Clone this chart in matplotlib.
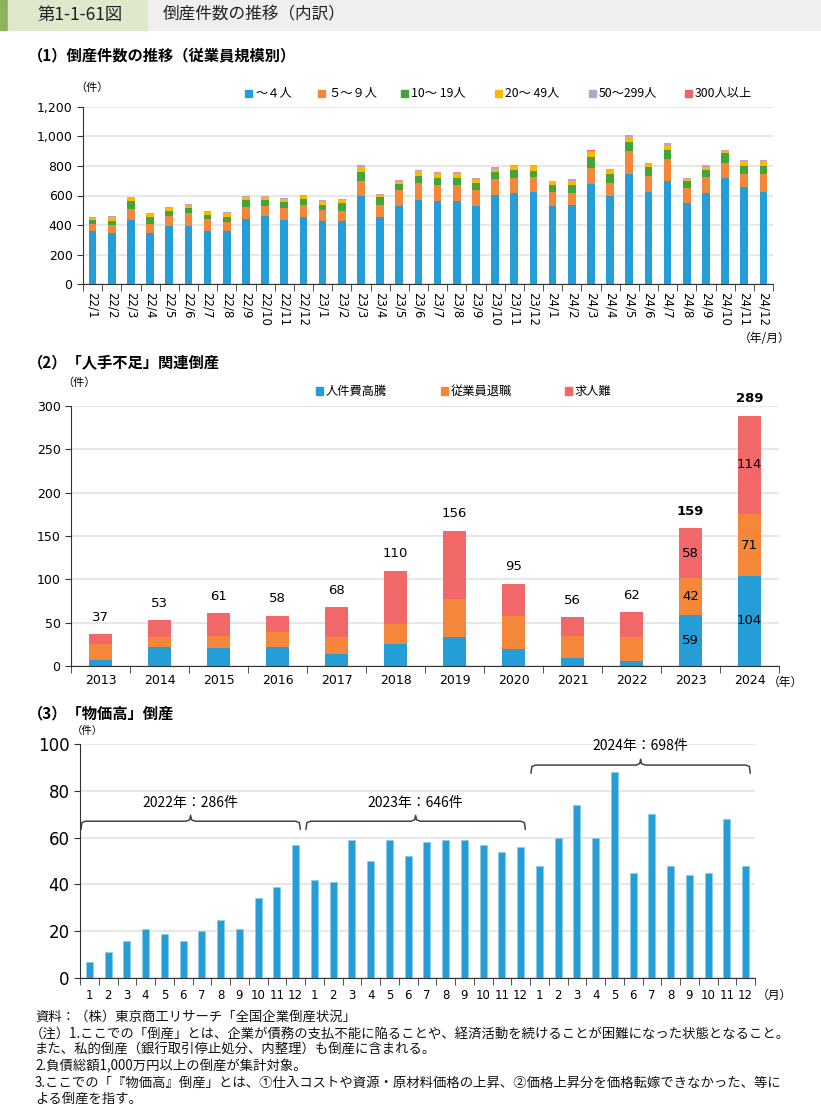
import numpy as np
import matplotlib
matplotlib.use('Agg')
import matplotlib.pyplot as plt
from matplotlib.patches import Rectangle

plt.rcParams['font.family'] = ['DejaVu Sans', 'Noto Sans CJK JP']
JP = ['Noto Sans CJK JP', 'DejaVu Sans']

# ---- panel 1 data: bankruptcies by employee size (monthly) ----
months1 = ["22/%d" % m for m in range(1, 13)] + ["23/%d" % m for m in range(1, 13)] + \
          ["24/%d" % m for m in range(1, 13)]
size_labels = ["～４人", "５～９人", "10～ 19人", "20～ 49人", "50～299人", "300人以上"]
s_0_4 = [357, 345, 436, 345, 395, 390, 361, 357, 440, 458, 433, 454,
         427, 429, 600, 454, 526, 567, 560, 560, 530, 603, 614, 621,
         526, 535, 675, 594, 745, 621, 697, 548, 616, 718, 655, 627]
s_5_9 = [51, 55, 74, 63, 68, 91, 77, 61, 79, 72, 82, 83,
         76, 68, 100, 81, 108, 117, 110, 110, 109, 106, 108, 104,
         95, 81, 110, 92, 158, 113, 152, 102, 109, 104, 92, 120]
s_10_19 = [23, 29, 52, 46, 29, 34, 27, 36, 48, 41, 42, 36,
           34, 51, 56, 54, 41, 50, 48, 50, 43, 49, 52, 42,
           52, 57, 77, 57, 61, 58, 61, 45, 45, 67, 54, 56]
s_20_49 = [14, 27, 25, 22, 23, 20, 20, 24, 24, 18, 21, 25,
           25, 21, 38, 14, 22, 29, 29, 27, 24, 23, 23, 34,
           22, 24, 32, 31, 31, 23, 33, 18, 22, 16, 30, 28]
s_50_299 = [6, 2, 4, 7, 6, 9, 7, 10, 7, 9, 4, 7,
            9, 9, 14, 6, 9, 9, 9, 11, 12, 9, 9, 7,
            5, 14, 11, 7, 14, 7, 12, 9, 14, 5, 9, 11]
s_300 = [1, 0, 1, 1, 0, 1, 0, 1, 1, 0, 1, 1,
         0, 1, 1, 0, 1, 1, 0, 1, 1, 0, 1, 1,
         0, 1, 1, 0, 1, 1, 1, 0, 1, 1, 0, 1]
size_colors = ['#259ed8', '#f5873b', '#3fa637', '#ffb800', '#b9a1d0', '#f26464']

# ---- panel 2 data: labour shortage bankruptcies (yearly) ----
years2 = [str(y) for y in range(2013, 2025)]
shortage_labels = ["人件費高騰", "従業員退職", "求人難"]
labour_cost = [7, 22, 21, 22, 14, 25, 33, 20, 9, 6, 59, 104]
retirement = [18, 11, 14, 17, 19, 24, 44, 38, 26, 28, 42, 71]
hiring = [12, 20, 26, 19, 35, 61, 79, 37, 21, 28, 58, 114]
shortage_colors = ['#259ed8', '#f5873b', '#f26868']

# ---- panel 3 data: price-hike bankruptcies (monthly) ----
months3 = [str(m) for m in range(1, 13)] * 3
price_counts = [7, 11, 16, 21, 19, 16, 20, 25, 21, 34, 39, 57,
                42, 41, 59, 50, 59, 52, 58, 59, 59, 57, 54, 56,
                48, 60, 74, 60, 88, 45, 70, 48, 44, 45, 68, 48]
year_names = ["2022", "2023", "2024"]

W, H = 821, 1106
fig = plt.figure(figsize=(W / 100, H / 100), dpi=100)


def fx(px):
    return px / W


def fy(py):
    return 1 - py / H


def legend_row(xs_px, y_px, labels, colors, size=8.8):
    # hand-placed legend: small square + label
    for xp, lab, col in zip(xs_px, labels, colors):
        fig.patches.append(Rectangle((fx(xp - 3.5), fy(y_px + 3.5)), fx(7), 7 / H,
                                     transform=fig.transFigure, color=col))
        fig.text(fx(xp + 7), fy(y_px), lab, family=JP, fontsize=size, va='center')


# header band
fig.patches.append(Rectangle((0, fy(30)), fx(8), 30 / H, transform=fig.transFigure, color='#8fb05c'))
fig.patches.append(Rectangle((fx(8), fy(30)), fx(140), 30 / H, transform=fig.transFigure, color='#dde8cc'))
fig.patches.append(Rectangle((fx(148), fy(30)), fx(673), 30 / H, transform=fig.transFigure, color='#efefef'))
fig.text(fx(37), fy(15), "第1-1-61図", family=JP, fontsize=12.5, va='center', color='#222222')
fig.text(fx(163), fy(15), "倒産件数の推移（内訳）", family=JP, fontsize=12, va='center', color='#222222')

fig.text(fx(28), fy(56), "（1）倒産件数の推移（従業員規模別）", family=JP, fontsize=11,
         weight='bold', va='center')
fig.text(fx(28), fy(363), "（2）「人手不足」関連倒産", family=JP, fontsize=11,
         weight='bold', va='center')
fig.text(fx(28), fy(713), "（3）「物価高」倒産", family=JP, fontsize=11,
         weight='bold', va='center')


def style_axis(ax):
    for s in ['top', 'right']:
        ax.spines[s].set_visible(False)
    ax.spines['left'].set_color('#333333')
    ax.spines['bottom'].set_color('#333333')
    ax.grid(axis='y', color='#e3e3e3', lw=1.2)
    ax.set_axisbelow(True)


# ---------- panel 1 ----------
ax1 = fig.add_axes([fx(83), fy(284), fx(690), (284 - 107) / H])
style_axis(ax1)
x1 = np.arange(len(months1))
bottom = np.zeros(len(months1))
for vals, lab, col in zip([s_0_4, s_5_9, s_10_19, s_20_49, s_50_299, s_300], size_labels, size_colors):
    ax1.bar(x1, vals, 0.4, bottom=bottom, color=col, label=lab)
    bottom += np.array(vals)
ax1.set_xlim(-0.5, len(months1) - 0.5)
ax1.set_ylim(0, 1200)
ax1.set_yticks(range(0, 1201, 200))
ax1.set_yticklabels(["{:,}".format(v) for v in range(0, 1201, 200)], fontsize=9)
ax1.set_xticks(x1)
ax1.set_xticklabels(months1, rotation=-90, fontsize=8.5, va='top')
ax1.tick_params(axis='x', length=0, pad=6)
ax1.set_xticks(np.arange(-0.5, len(months1)), minor=True)
ax1.tick_params(axis='x', which='minor', length=5, color='#333333')
ax1.tick_params(axis='y', length=4, color='#333333')
fig.text(fx(75), fy(88), "（件）", family=JP, fontsize=8, va='center')
fig.text(fx(790), fy(338), "（年/月）", family=JP, fontsize=8.5, va='center', ha='right')
legend_row([248, 321, 404, 498, 592, 688], 93, size_labels, size_colors)

# ---------- panel 2 ----------
ax2 = fig.add_axes([fx(71), fy(666), fx(708), (666 - 406) / H])
style_axis(ax2)
x2 = np.arange(len(years2))
bottom = np.zeros(len(years2))
for vals, lab, col in zip([labour_cost, retirement, hiring], shortage_labels, shortage_colors):
    ax2.bar(x2, vals, 0.4, bottom=bottom, color=col, label=lab)
    bottom += np.array(vals)
totals2 = bottom
for i, t in enumerate(totals2):
    bold = i >= len(years2) - 2
    ax2.text(i, t + 12, "%d" % t, ha='center', va='bottom', fontsize=9.5,
             weight='bold' if bold else 'normal')
    if bold:
        base = 0
        for vals in [labour_cost, retirement, hiring]:
            ax2.text(i, base + vals[i] / 2, "%d" % vals[i], ha='center', va='center', fontsize=9.5)
            base += vals[i]
ax2.set_xlim(-0.5, len(years2) - 0.5)
ax2.set_ylim(0, 300)
ax2.set_yticks(range(0, 301, 50))
ax2.tick_params(axis='y', labelsize=9, length=4, color='#333333')
ax2.set_xticks(x2)
ax2.set_xticklabels(years2, fontsize=9)
ax2.tick_params(axis='x', length=0, pad=6)
ax2.set_xticks(np.arange(-0.5, len(years2)), minor=True)
ax2.tick_params(axis='x', which='minor', length=5, color='#333333')
fig.text(fx(62), fy(383), "（件）", family=JP, fontsize=8, va='center')
fig.text(fx(768), fy(682), "（年）", family=JP, fontsize=8.5, va='center')
legend_row([319, 444, 568], 391, shortage_labels, shortage_colors)

# ---------- panel 3 ----------
ax3 = fig.add_axes([fx(80), fy(978), fx(675), (978 - 744) / H])
style_axis(ax3)
x3 = np.arange(len(price_counts))
ax3.bar(x3, price_counts, 0.38, color='#259ed8', edgecolor='#8ccbea', lw=0.6)
ax3.set_xlim(-0.5, len(price_counts) - 0.5)
ax3.set_ylim(0, 100)
ax3.set_yticks(range(0, 101, 20))
ax3.tick_params(axis='y', labelsize=12, length=4, color='#333333')
ax3.set_xticks(x3)
ax3.set_xticklabels(months3, fontsize=8.5)
ax3.tick_params(axis='x', length=0, pad=8)
ax3.set_xticks(np.arange(-0.5, len(price_counts)), minor=True)
ax3.tick_params(axis='x', which='minor', length=5, color='#333333')
fig.text(fx(72), fy(731), "（件）", family=JP, fontsize=7.5, va='center')
fig.text(fx(757), fy(995), "（月）", family=JP, fontsize=8.5, va='center')


def brace(ax, x0, x1, y, up=2.5, down=3.5):
    xm = (x0 + x1) / 2
    xs = [x0, x0 + 0.05, x0 + 0.25, xm - 0.25, xm - 0.05, xm, xm + 0.05, xm + 0.25,
          x1 - 0.25, x1 - 0.05, x1]
    ys = [y - down, y - 0.6, y, y, y + 0.6, y + up, y + 0.6, y, y, y - 0.6, y - down]
    ax.plot(xs, ys, color='#444444', lw=1.1, clip_on=False, solid_capstyle='round')


brace_levels = [67, 67, 91]
for k, yname in enumerate(year_names):
    seg = price_counts[12 * k:12 * (k + 1)]
    x0, x1 = 12 * k - 0.45, 12 * k + 11.25
    yb = brace_levels[k]
    brace(ax3, x0, x1, yb)
    ax3.text((x0 + x1) / 2, yb + 5, "%s年：%d件" % (yname, sum(seg)), family=JP,
             ha='center', va='bottom', fontsize=10)

# ---------- notes ----------
notes = [
    "資料：（株）東京商工リサーチ「全国企業倒産状況」",
    "（注）1.ここでの「倒産」とは、企業が債務の支払不能に陥ることや、経済活動を続けることが困難になった状態となること。",
    "また、私的倒産（銀行取引停止処分、内整理）も倒産に含まれる。",
    "2.負債総額1,000万円以上の倒産が集計対象。",
    "3.ここでの「『物価高』倒産」とは、①仕入コストや資源・原材料価格の上昇、②価格上昇分を価格転嫁できなかった、等に",
    "よる倒産を指す。",
]
note_x = [35, 30, 35, 35, 35, 35]
for i, (t, nx) in enumerate(zip(notes, note_x)):
    fig.text(fx(nx), fy(1017 + i * 16.4), t, family=JP, fontsize=9.6, va='center', color='#111111')

plt.savefig('out.png', dpi=100)
